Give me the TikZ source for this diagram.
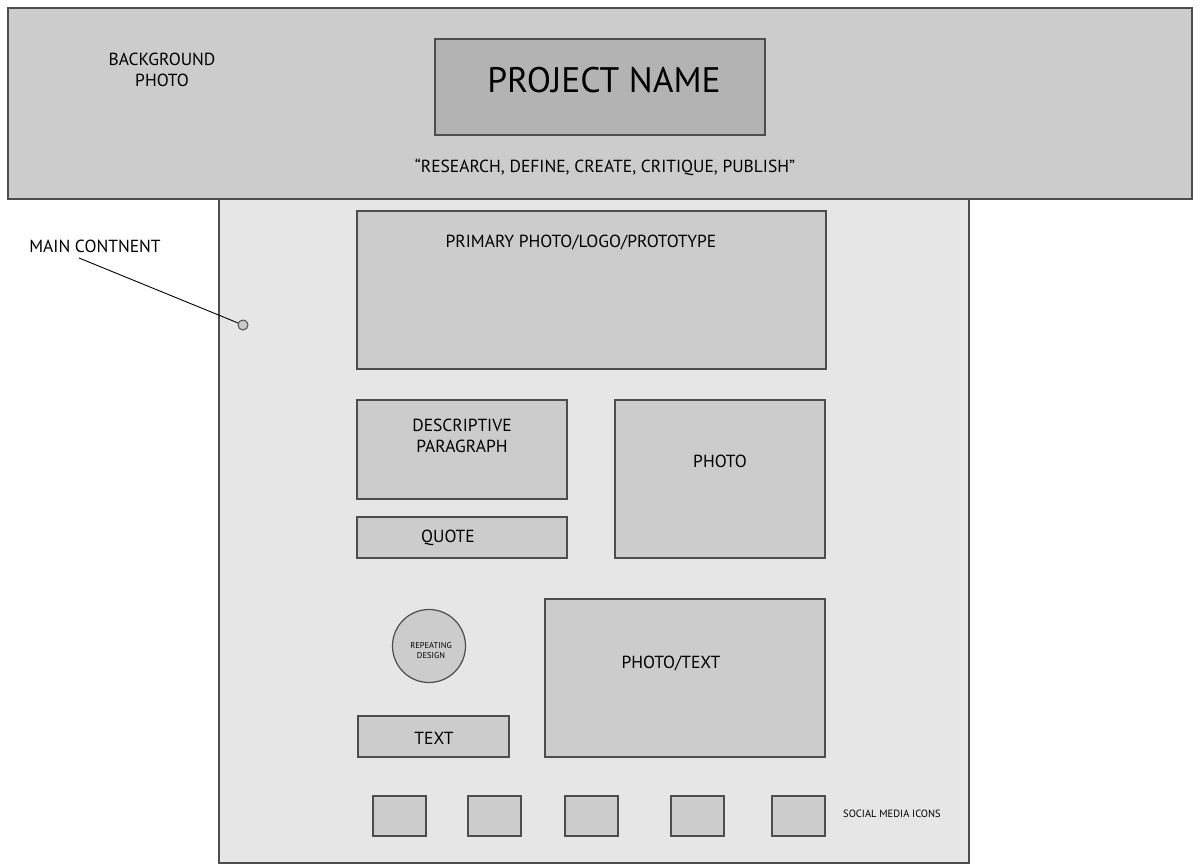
\documentclass[tikz,border=0pt]{standalone}
\usepackage{fontspec}
\setmainfont{PT Sans}
\usepackage{tikz}
\definecolor{hdrgray}{HTML}{CCCCCC}
\definecolor{namegray}{HTML}{B3B3B3}
\definecolor{pagegray}{HTML}{E6E6E6}
\definecolor{edgegray}{HTML}{4D4D4D}

\begin{document}
\begin{tikzpicture}[x=1pt, y=-1pt, line width=1.2pt,
  box/.style={draw=edgegray, fill=hdrgray},
  lbl/.style={inner sep=0pt, anchor=base, font=\fontsize{17.5}{21}\selectfont},
  tiny/.style={inner sep=0pt, anchor=base, font=\fontsize{10.5}{12}\selectfont}]
  \useasboundingbox (0,0) rectangle (1200,864);

  % header and page
  \draw[box] (8,8) rectangle (1192,199);
  \draw[draw=edgegray, fill=pagegray] (219,199) rectangle (969,863);
  \draw[draw=edgegray, fill=namegray] (435,39) rectangle (765,135);

  \node[lbl, font=\fontsize{35.5}{40}\selectfont] (name) at (604,93) {PROJECT NAME};
  \node[lbl] (motto) at (605,172) {“RESEARCH, DEFINE, CREATE, CRITIQUE, PUBLISH”};
  \node[lbl, align=center] (bg) at (162,87) {BACKGROUND\\PHOTO};

  % main content pointer
  \node[lbl] (main) at (95,252) {MAIN CONTNENT};
  \coordinate (mainend) at (79,258);
  \node[circle, draw=edgegray, fill=hdrgray, line width=1pt, minimum size=10pt, inner sep=0pt] (dot) at (243,325) {};
  \draw[line width=0.9pt] (mainend) -- (dot);

  % content boxes
  \draw[box] (357,211) rectangle (826,369);
  \node[lbl] (primary) at (581,247) {PRIMARY PHOTO/LOGO/PROTOTYPE};

  \draw[box] (357,400) rectangle (567,499);
  \node[lbl, align=center] (desc) at (462,452) {DESCRIPTIVE\\PARAGRAPH};

  \draw[box] (357,517) rectangle (567,558);
  \node[lbl] (quote) at (448,542) {QUOTE};

  \draw[box] (615,400) rectangle (825,558);
  \node[lbl] (photo) at (720,467) {PHOTO};

  \node[circle, box, minimum size=73pt, inner sep=0pt] (repeat) at (429,646) {};
  \node[tiny, align=center, font=\fontsize{8.5}{10}\selectfont] (rep) at (431,658) {REPEATING\\DESIGN};

  \draw[box] (358,716) rectangle (509,757);
  \node[lbl] (text) at (434,744) {TEXT};

  \draw[box] (545,599) rectangle (825,757);
  \node[lbl] (phtxt) at (671,668) {PHOTO/TEXT};

  % social media icons
  \foreach \x in {373,468,565,671,772}
    \draw[box] (\x,796) rectangle ++(53,40);
  \node[tiny] (social) at (892,817) {SOCIAL MEDIA ICONS};
\end{tikzpicture}
\end{document}
